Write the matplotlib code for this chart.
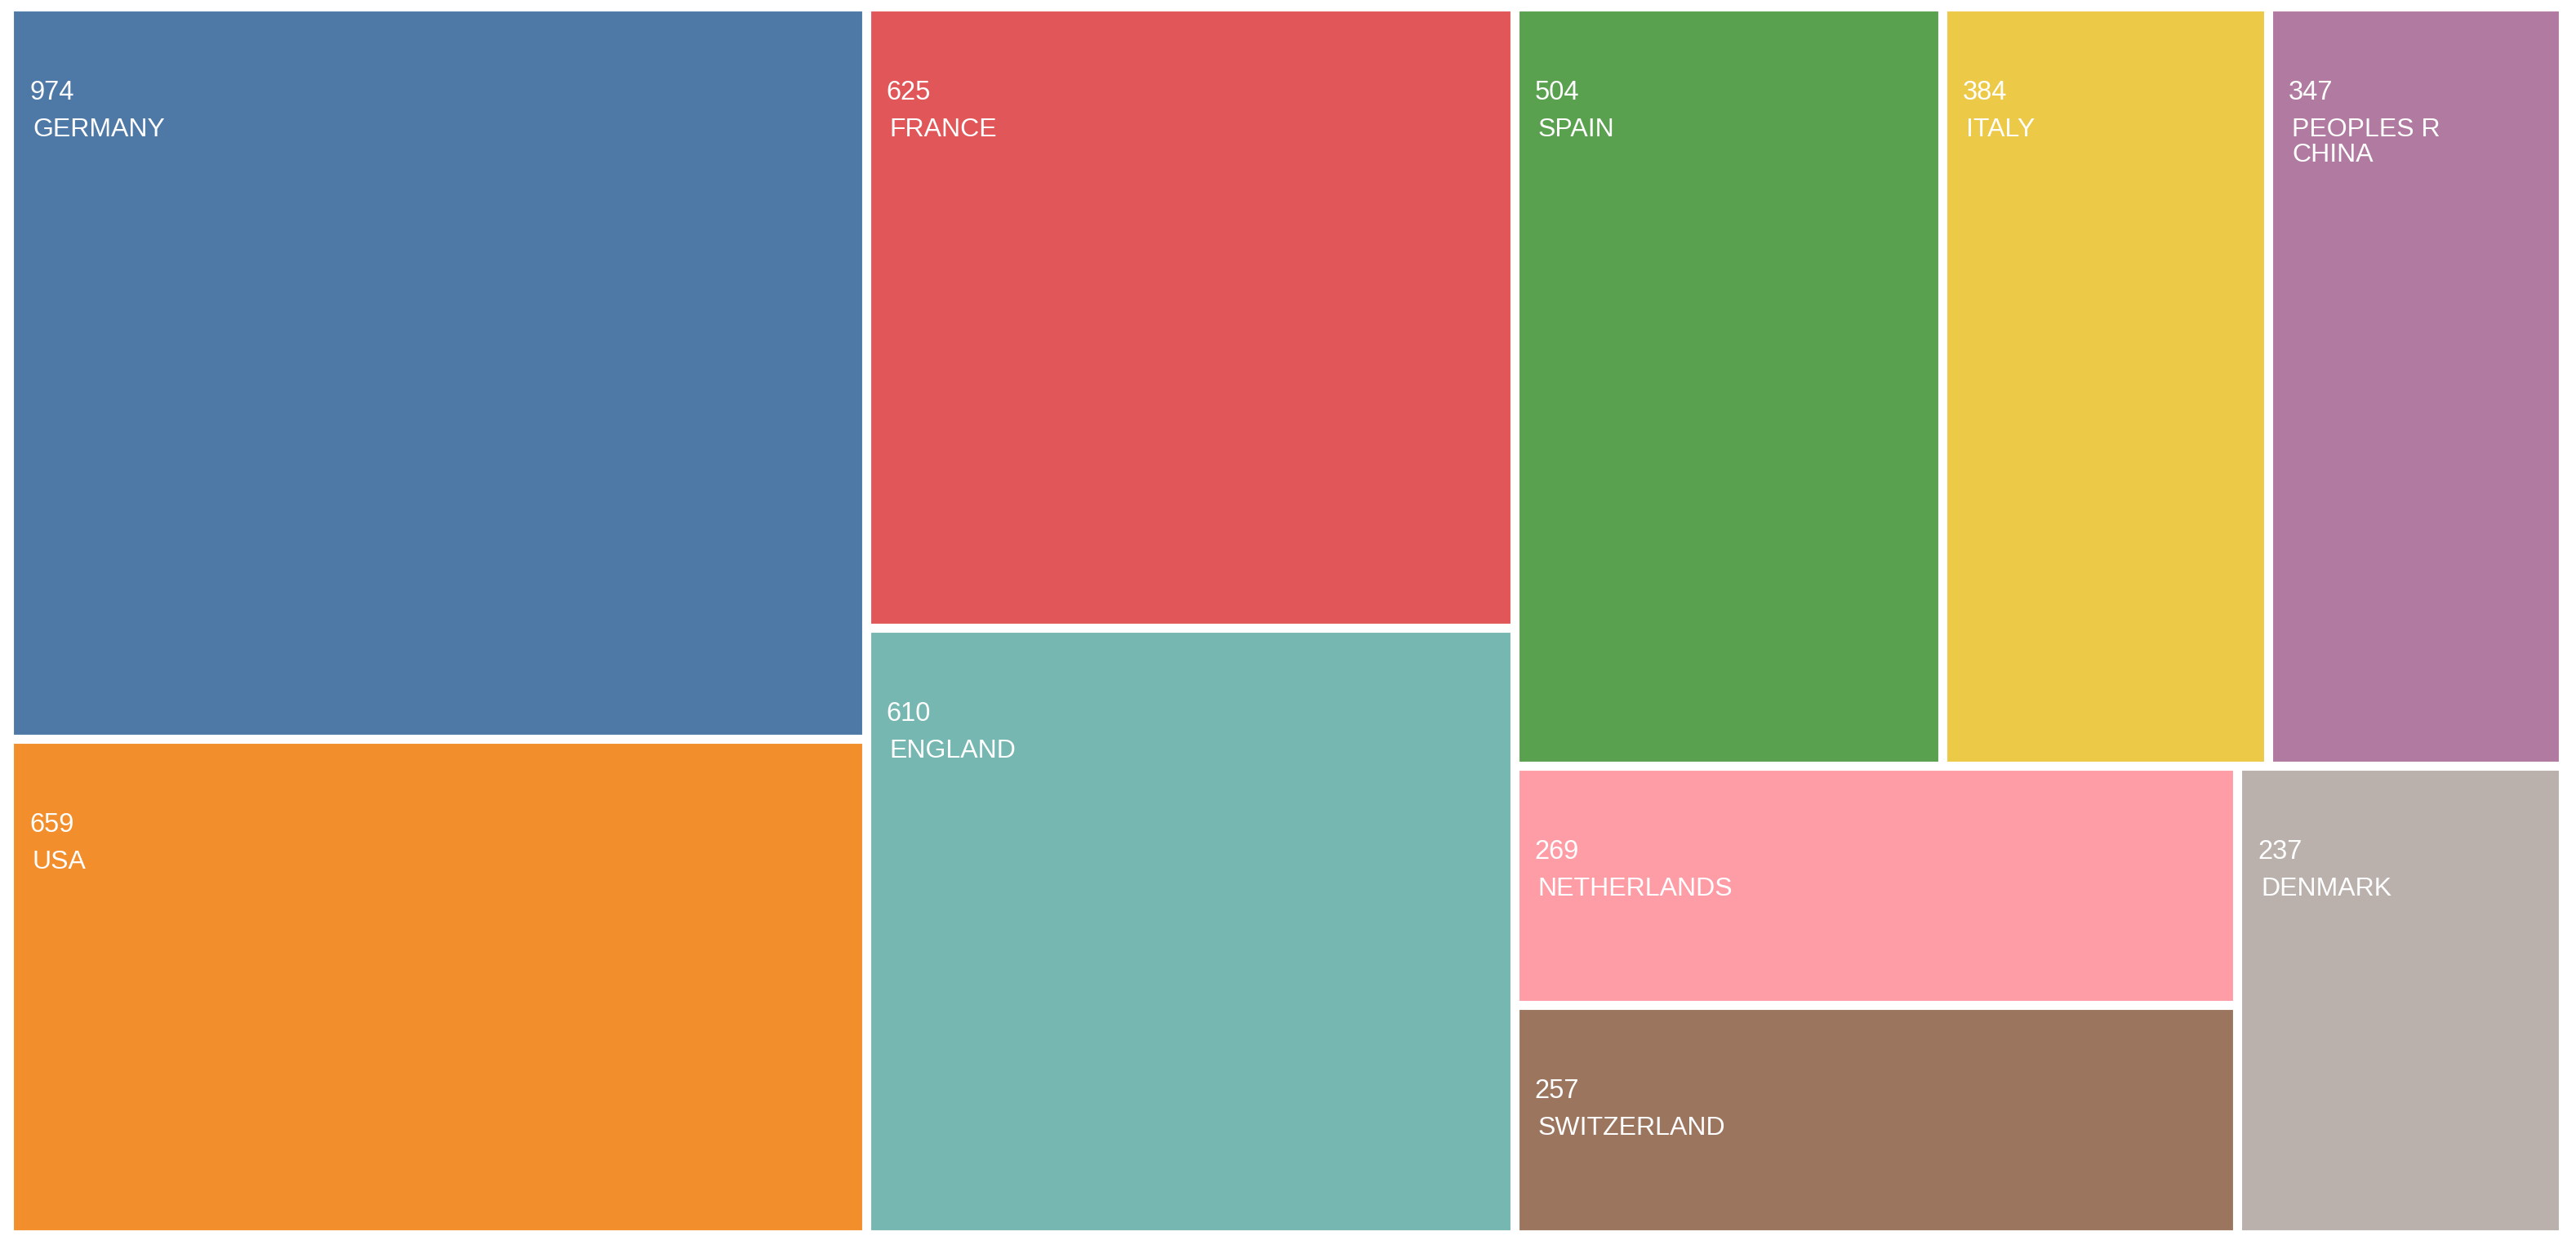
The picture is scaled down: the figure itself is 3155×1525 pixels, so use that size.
import matplotlib
matplotlib.use("Agg")
import matplotlib.pyplot as plt
from matplotlib.patches import Rectangle
import textwrap

# publications per country
countries = ["GERMANY", "USA", "FRANCE", "ENGLAND", "SPAIN", "ITALY",
             "PEOPLES R CHINA", "NETHERLANDS", "SWITZERLAND", "DENMARK"]
counts = [974, 659, 625, 610, 504, 384, 347, 269, 257, 237]
colors = ["#4e79a7", "#f28e2b", "#e15759", "#76b7b2", "#59a14f",
          "#edc948", "#b07aa1", "#ff9da7", "#9c755f", "#bab0ac"]

W, H = 3155, 1525
PAD = 5  # half of the gap between tiles
PHI = (1 + 5 ** 0.5) / 2


# same idea as d3.treemapSquarify
def squarify(values, x0, y0, x1, y1, ratio=PHI):
    rects = []
    value = float(sum(values))
    n = len(values)
    i0 = i1 = 0
    while i0 < n:
        dx, dy = x1 - x0, y1 - y0
        sum_v = values[i1]
        i1 += 1
        min_v = max_v = sum_v
        alpha = max(dy / dx, dx / dy) / (value * ratio)
        beta = sum_v * sum_v * alpha
        min_ratio = max(max_v / beta, beta / min_v)
        while i1 < n:
            v = values[i1]
            sum_v += v
            min_v = min(min_v, v)
            max_v = max(max_v, v)
            beta = sum_v * sum_v * alpha
            new_ratio = max(max_v / beta, beta / min_v)
            if new_ratio > min_ratio:
                sum_v -= v
                break
            min_ratio = new_ratio
            i1 += 1
        row = values[i0:i1]
        if dx < dy:
            y_end = y0 + dy * sum_v / value
            x = x0
            for v in row:
                w = dx * v / sum_v
                rects.append((x, y0, x + w, y_end))
                x += w
            y0 = y_end
        else:
            x_end = x0 + dx * sum_v / value
            y = y0
            for v in row:
                h = dy * v / sum_v
                rects.append((x0, y, x_end, y + h))
                y += h
            x0 = x_end
        value -= sum_v
        i0 = i1
    return rects


fig = plt.figure(figsize=(W / 100, H / 100), dpi=100)
ax = fig.add_axes([0, 0, 1, 1])
ax.set_xlim(0, W)
ax.set_ylim(H, 0)
ax.axis("off")

rects = squarify(counts, 16 - PAD, 13 - PAD, 3134 + PAD, 1507 + PAD)

for (x0, y0, x1, y1), name, cnt, col in zip(rects, countries, counts, colors):
    x0 += PAD; y0 += PAD; x1 -= PAD; y1 -= PAD
    ax.add_patch(Rectangle((x0, y0), x1 - x0, y1 - y0, facecolor=col,
                           edgecolor="white", linewidth=0.8))
    ax.text(x0 + 20, y0 + 109, str(cnt), color="white", fontsize=23.5,
            family="Liberation Sans", va="baseline", ha="left")
    maxc = max(int((x1 - x0 - 40) / 22), 4)
    for k, line in enumerate(textwrap.wrap(name, maxc)):
        ax.text(x0 + 24, y0 + 154 + k * 31, line, color="white", fontsize=23,
                family="Liberation Sans", va="baseline", ha="left")

fig.savefig("out.png", dpi=100, facecolor="white")
